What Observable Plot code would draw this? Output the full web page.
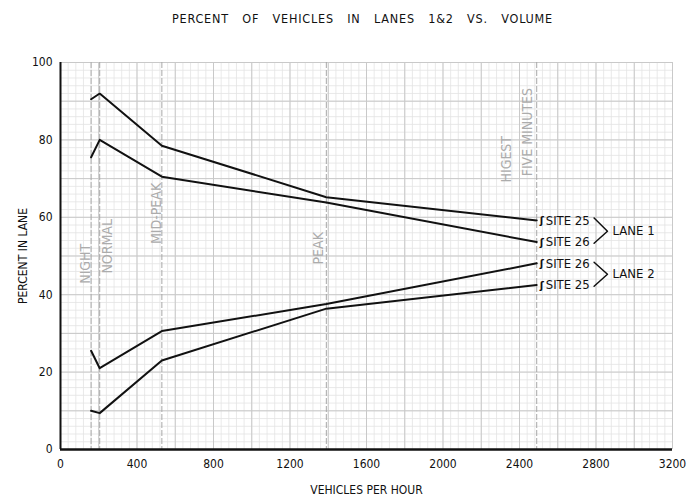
<!DOCTYPE html>
<html>
<head>
<meta charset="utf-8">
<script src="https://cdn.jsdelivr.net/npm/d3@7"></script>
<script src="https://cdn.jsdelivr.net/npm/@observablehq/plot@0.6"></script>
<style>
  html, body { margin: 0; padding: 0; background: #fff; }
  #title {
    height: 40px; box-sizing: border-box; padding-top: 11px;
    padding-left: 34px; text-align: center;
    font-family: "DejaVu Sans Condensed", "DejaVu Sans", sans-serif;
    font-size: 12.5px; letter-spacing: 0.8px; word-spacing: 9px; color: #111;
  }
</style>
</head>
<body>
<div id="title">PERCENT OF VEHICLES IN LANES 1&amp;2 VS. VOLUME</div>
<div id="chart"></div>
<script>
// ---- data ----
const volumes = [160, 205, 530, 1390, 2490];           // vehicles per hour
const site25Lane1 = [90.5, 92, 78.5, 65.2, 59.2];
const site26Lane1 = [75.5, 80, 70.5, 63.8, 53.6];
const site26Lane2 = [25.5, 21, 30.6, 37.6, 48.1];
const site25Lane2 = [10, 9.4, 23, 36.4, 42.5];
const seriesNames = ["SITE 25", "SITE 26", "SITE 26", "SITE 25"];
const laneNames = ["LANE 1", "LANE 2"];
const periodNames = ["NIGHT", "NORMAL", "MID-PEAK", "PEAK", "HIGEST", "FIVE MINUTES"];
const periodVolumes = [160, 205, 530, 1390, 2490];
const xTicks = [0, 400, 800, 1200, 1600, 2000, 2400, 2800, 3200];
const yTicks = [0, 20, 40, 60, 80, 100];

const allSeries = [site25Lane1, site26Lane1, site26Lane2, site25Lane2];
const lineData = allSeries.flatMap((vals, i) =>
  vals.map((v, j) => ({series: i, x: volumes[j], y: v})));
const endX = volumes[volumes.length - 1];
const ends = allSeries.map((vals, i) => ({x: endX, y: vals[vals.length - 1], name: seriesNames[i]}));

// bracket geometry derived from series ends
const bx0 = endX + 300, bx1 = endX + 370;
const lane1Mid = (ends[0].y + ends[1].y) / 2;
const lane2Mid = (ends[2].y + ends[3].y) / 2;
const brackets = [
  [{x: bx0, y: ends[0].y + 0.6}, {x: bx1, y: lane1Mid}, {x: bx0, y: ends[1].y - 0.3}],
  [{x: bx0, y: ends[2].y + 0.3}, {x: bx1, y: lane2Mid}, {x: bx0, y: ends[3].y - 0.3}]
].flatMap((pts, k) => pts.map(p => ({...p, k})));
const laneLabels = [
  {x: bx1, y: lane1Mid, name: laneNames[0]},
  {x: bx1, y: lane2Mid, name: laneNames[1]}
];

// period annotation placement (anchored on the period rules)
const periodLabels = [
  {x: periodVolumes[0], y: 48, dx: -6, name: periodNames[0]},
  {x: periodVolumes[1], y: 52.5, dx: 8, name: periodNames[1]},
  {x: periodVolumes[2], y: 61, dx: -5, name: periodNames[2]},
  {x: periodVolumes[3], y: 52, dx: -8, name: periodNames[3]},
  {x: periodVolumes[4], y: 75, dx: -30, name: periodNames[4]},
  {x: periodVolumes[4], y: 82, dx: -9, name: periodNames[5]}
];

const minorX = d3.range(0, 3201, 40);
const minorY = d3.range(0, 101, 2);
const majorX = d3.range(0, 3201, 200);
const majorY = d3.range(0, 101, 10);

const font = '"DejaVu Sans Condensed", "DejaVu Sans", sans-serif';

const chart = Plot.plot({
  width: 691,
  height: 464,
  marginTop: 22,
  marginBottom: 55,
  marginLeft: 60,
  marginRight: 19,
  style: {fontFamily: font, fontSize: "12px", color: "#111", background: "#fff"},
  x: {domain: [0, 3200]},
  y: {domain: [0, 100]},
  marks: [
    Plot.ruleX(minorX, {stroke: "#e3e3e3", strokeWidth: 0.8}),
    Plot.ruleY(minorY, {stroke: "#e3e3e3", strokeWidth: 0.8}),
    Plot.ruleX(majorX, {stroke: "#c9c9c9", strokeWidth: 1}),
    Plot.ruleY(majorY, {stroke: "#c9c9c9", strokeWidth: 1}),
    Plot.ruleX(periodVolumes, {stroke: "#a8a8a8", strokeWidth: 1, strokeDasharray: "6,2"}),
    ...periodLabels.map(d => Plot.text([d], {x: "x", y: "y", text: "name", dx: d.dx, rotate: -90,
      fill: "#acacac", fontSize: 14, fontFamily: font})),
    Plot.axisX({ticks: xTicks, tickSize: 0, tickPadding: 10, fontSize: 12, tickFormat: d => String(d),
      label: "VEHICLES PER HOUR", labelAnchor: "center", labelOffset: 44, labelArrow: "none"}),
    Plot.axisY({ticks: yTicks, tickSize: 0, tickPadding: 8, fontSize: 12, tickFormat: d => String(d),
      label: "PERCENT IN LANE", labelAnchor: "center", labelOffset: 42, labelArrow: "none"}),
    Plot.ruleX([0], {stroke: "#111", strokeWidth: 2}),
    Plot.ruleY([0], {stroke: "#111", strokeWidth: 2.5}),
    Plot.line(lineData, {x: "x", y: "y", z: "series", stroke: "#111", strokeWidth: 2}),
    Plot.text(ends, {x: "x", y: "y", text: () => "ʃ", dx: 3, textAnchor: "start", fontSize: 11, fontWeight: "bold", fill: "#111"}),
    Plot.text(ends, {x: "x", y: "y", text: "name", dx: 9, textAnchor: "start", fontSize: 13, fill: "#111"}),
    Plot.line(brackets, {x: "x", y: "y", z: "k", stroke: "#111", strokeWidth: 1.5}),
    Plot.text(laneLabels, {x: "x", y: "y", text: "name", dx: 5, textAnchor: "start", fontSize: 13, fill: "#111"})
  ]
});
document.getElementById("chart").appendChild(chart);
</script>
</body>
</html>
